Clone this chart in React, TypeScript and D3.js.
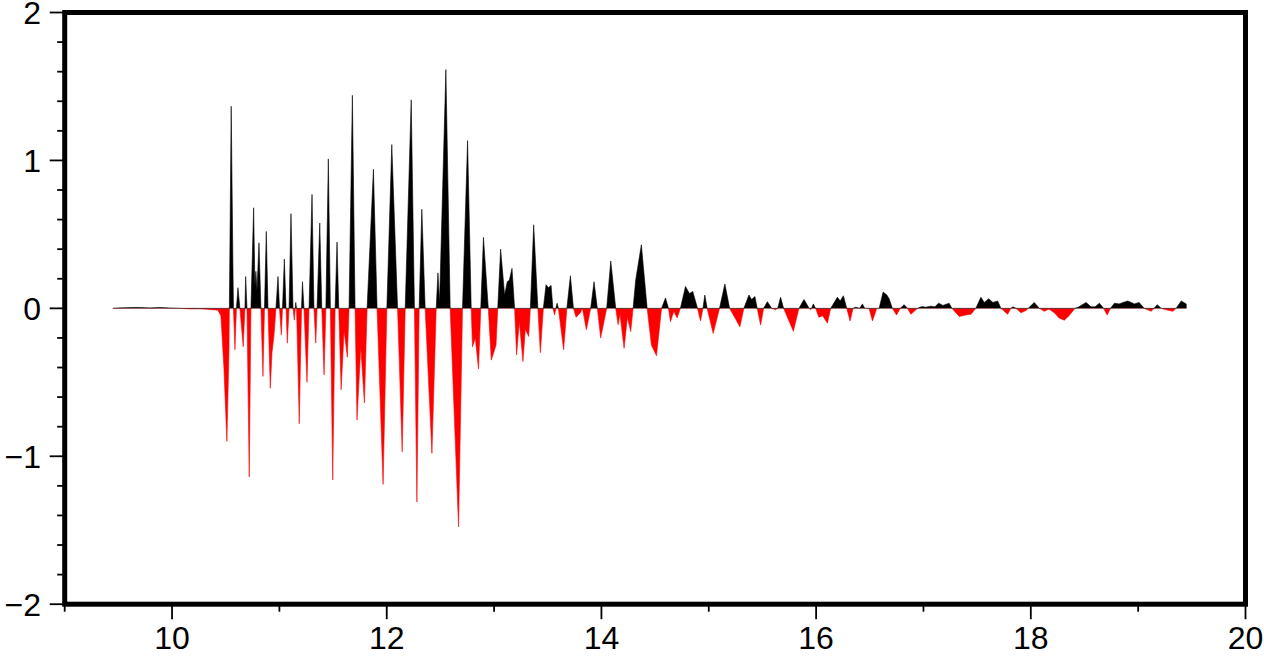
import React from 'react';
import * as d3 from 'd3';

// Seismic trace (time in s, amplitude)
const times = [
  9.448, 9.5, 9.56, 9.62, 9.7, 9.793, 9.886, 9.979, 10.073, 10.166, 10.259, 10.353, 10.427, 10.455, 10.483, 10.511, 10.53, 10.534,
  10.551, 10.567, 10.572, 10.586, 10.6, 10.614, 10.632, 10.663, 10.679, 10.686, 10.698, 10.719, 10.735, 10.76, 10.772, 10.781,
  10.791, 10.81, 10.828, 10.847, 10.861, 10.878, 10.894, 10.915, 10.931, 10.95, 10.968, 10.987, 11.001, 11.018, 11.029, 11.046,
  11.062, 11.074, 11.09, 11.108, 11.127, 11.139, 11.148, 11.152, 11.16, 11.185, 11.206, 11.215, 11.229, 11.257, 11.276, 11.304,
  11.322, 11.339, 11.351, 11.376, 11.395, 11.416, 11.433, 11.456, 11.475, 11.497, 11.519, 11.537, 11.553, 11.575, 11.603, 11.633,
  11.649, 11.68, 11.705, 11.723, 11.758, 11.792, 11.817, 11.876, 11.91, 11.966, 12.001, 12.047, 12.101, 12.144, 12.172, 12.228,
  12.258, 12.281, 12.302, 12.327, 12.358, 12.421, 12.461, 12.477, 12.492, 12.551, 12.591, 12.669, 12.706, 12.753, 12.787, 12.799,
  12.825, 12.855, 12.876, 12.901, 12.946, 12.974, 13.018, 13.034, 13.061, 13.098, 13.123, 13.142, 13.167, 13.191, 13.21, 13.235,
  13.269, 13.291, 13.322, 13.338, 13.369, 13.408, 13.431, 13.459, 13.484, 13.506, 13.531, 13.548, 13.564, 13.576, 13.587, 13.599,
  13.648, 13.678, 13.711, 13.739, 13.764, 13.804, 13.823, 13.86, 13.9, 13.931, 13.962, 13.993, 14.049, 14.087, 14.133, 14.155,
  14.173, 14.211, 14.242, 14.273, 14.295, 14.319, 14.372, 14.426, 14.466, 14.513, 14.56, 14.597, 14.625, 14.643, 14.674, 14.705,
  14.736, 14.783, 14.82, 14.851, 14.895, 14.923, 14.946, 14.963, 14.985, 15.041, 15.1, 15.15, 15.194, 15.29, 15.327, 15.374,
  15.399, 15.43, 15.451, 15.483, 15.511, 15.546, 15.586, 15.623, 15.642, 15.669, 15.697, 15.788, 15.84, 15.887, 15.935, 15.949,
  15.958, 15.974, 15.995, 16.026, 16.061, 16.105, 16.136, 16.198, 16.225, 16.254, 16.285, 16.316, 16.345, 16.369, 16.406, 16.431,
  16.453, 16.493, 16.525, 16.565, 16.587, 16.624, 16.659, 16.68, 16.71, 16.749, 16.784, 16.82, 16.851, 16.882, 16.945, 16.985,
  17.022, 17.069, 17.106, 17.141, 17.181, 17.239, 17.265, 17.333, 17.395, 17.442, 17.488, 17.535, 17.566, 17.607, 17.647, 17.691,
  17.722, 17.784, 17.815, 17.834, 17.862, 17.908, 17.955, 17.976, 18.032, 18.079, 18.126, 18.169, 18.219, 18.263, 18.312, 18.356,
  18.412, 18.449, 18.468, 18.515, 18.561, 18.599, 18.639, 18.678, 18.711, 18.743, 18.779, 18.822, 18.86, 18.904, 18.965, 19.009,
  19.056, 19.121, 19.149, 19.177, 19.214, 19.261, 19.323, 19.354, 19.401, 19.448,
];
const amps = [
  0, 0.003, 0.004, 0.005, 0.006, 0.003, 0.006, 0.002, 0, -0.004, -0.003, -0.008, -0.012, -0.05, -0.4, -0.9, -0.3, 0,
  1.366, 0.3, 0, -0.28, 0, 0.14, 0, -0.26, 0, 0.215, 0, -1.14, 0, 0.68, 0.15, 0.25,
  0.12, 0.443, 0, -0.46, 0, 0.52, 0, -0.54, -0.3, -0.18, 0, 0.215, 0, -0.18, 0, 0.333,
  0, -0.235, 0, 0.64, 0, -0.08, 0, 0.04, 0, -0.78, 0, 0.18, 0, -0.5, 0, 0.77,
  0, -0.235, 0, 0.577, 0, -0.45, 0, 1.01, 0, -1.16, 0, 0.448, 0, -0.55, -0.15, -0.33,
  0, 1.44, 0, -0.755, -0.26, -0.64, 0, 0.94, 0, -1.19, 0, 1.107, 0, -0.97, 0, 1.41,
  0, -1.31, 0, 0.67, 0, -0.98, 0, 0.24, 0.04, 1.614, 0, -1.477, 0, 1.134, 0, -0.26,
  -0.2, -0.41, 0, 0.48, 0, -0.35, -0.25, 0, 0.4, 0.09, 0.18, 0.19, 0.27, 0, -0.315, -0.09,
  -0.36, -0.14, -0.19, 0, 0.565, 0, -0.3, 0, 0.16, 0.14, 0.155, 0, -0.045, 0, 0.035, 0,
  -0.28, 0, 0.22, 0, -0.06, -0.03, 0, -0.145, 0, 0.18, 0, -0.2, 0, 0.32, 0, -0.11,
  -0.04, -0.27, -0.06, -0.157, 0, 0.19, 0.43, 0, -0.25, -0.32, 0, 0.07, 0, -0.09, -0.02, -0.065,
  0, 0.148, 0.1, 0.114, 0, -0.085, 0, 0.09, 0, -0.17, 0, 0.165, 0, -0.125, 0, 0.09,
  0.06, 0.08, 0, -0.113, 0, 0.045, 0, -0.01, 0, 0.075, 0, -0.155, 0, 0.06, 0, -0.01,
  0, 0.03, 0, -0.06, -0.05, -0.1, 0, 0.075, 0.05, 0.085, 0, -0.085, 0, 0.008, 0, 0.03,
  0, 0, -0.085, 0, 0, 0.11, 0.09, 0.065, 0, -0.045, 0, 0.025, 0, -0.04, 0, 0.012,
  0.008, 0.015, 0.01, 0.035, 0.02, 0.035, 0, -0.055, -0.045, -0.04, 0, 0.075, 0.04, 0.065, 0.04, 0.05,
  0, -0.04, 0, 0.01, 0, -0.03, -0.015, 0, 0.04, 0, -0.02, -0.005, -0.03, -0.065, -0.08, -0.05,
  0, 0.01, 0.02, 0.04, 0.01, 0.01, 0.035, 0, -0.045, 0, 0.035, 0.03, 0.04, 0.05, 0.03, 0.04,
  0, -0.02, 0, 0.025, 0, -0.01, -0.02, 0, 0.05, 0.03,
];

const xMajorTicks = [10, 12, 14, 16, 18, 20];
const xMajorLabels = ['10', '12', '14', '16', '18', '20'];
const xMinorTicks = [9, 11, 13, 15, 17, 19];
const yMajorTicks = [-2, -1, 0, 1, 2];
const yMajorLabels = ['\u22122', '\u22121', '0', '1', '2'];
const yMinorTicks = [-1.8, -1.6, -1.4, -1.2, -0.8, -0.6, -0.4, -0.2, 0.2, 0.4, 0.6, 0.8, 1.2, 1.4, 1.6, 1.8];

const W = 1264;
const H = 656;
const left = 64.7;
const right = 1245.5;
const top = 12.5;
const bottom = 604.2;

export default function App() {
  const x = d3.scaleLinear().domain([9, 20]).range([left, right]);
  const y = d3.scaleLinear().domain([-2, 2]).range([bottom, top]);
  const pts = times.map((t, i) => [t, amps[i]] as [number, number]);
  const area = d3
    .area<[number, number]>()
    .x((d) => x(d[0]))
    .y0(() => y(0))
    .y1((d) => y(d[1]));
  const dPath = area(pts) || '';
  const y0 = y(0);
  const font = "'Liberation Sans', Arial, Helvetica, sans-serif";
  const fs = 32;
  return (
    <svg width={W} height={H} style={{ position: 'absolute', left: 0, top: 0, background: '#fff' }}>
      <defs>
        <clipPath id="pos">
          <rect x={left} y={top} width={right - left} height={y0 - top + 0.3} />
        </clipPath>
        <clipPath id="neg">
          <rect x={left} y={y0 + 0.3} width={right - left} height={bottom - y0} />
        </clipPath>
      </defs>
      <rect x={0} y={0} width={W} height={H} fill="#fff" />
      <path d={dPath} fill="#000" stroke="#000" strokeWidth={0.6} clipPath="url(#pos)" />
      <path d={dPath} fill="#ff0000" stroke="#ff0000" strokeWidth={0.6} clipPath="url(#neg)" />
      {/* x ticks */}
      {xMajorTicks.map((t) => (
        <line key={'xM' + t} x1={x(t)} x2={x(t)} y1={bottom} y2={bottom + 15} stroke="#000" strokeWidth={1.8} />
      ))}
      {xMinorTicks.map((t) => (
        <line key={'xm' + t} x1={x(t)} x2={x(t)} y1={bottom} y2={bottom + 7.5} stroke="#000" strokeWidth={1.8} />
      ))}
      {xMajorTicks.map((t, i) => (
        <text key={'xl' + t} x={x(t)} y={649} textAnchor="middle" fontFamily={font} fontSize={fs} fill="#000">
          {xMajorLabels[i]}
        </text>
      ))}
      {/* y ticks */}
      {yMajorTicks.map((t) => (
        <line key={'yM' + t} x1={left - 15} x2={left} y1={y(t)} y2={y(t)} stroke="#000" strokeWidth={1.8} />
      ))}
      {yMinorTicks.map((t) => (
        <line key={'ym' + t} x1={left - 7.5} x2={left} y1={y(t)} y2={y(t)} stroke="#000" strokeWidth={1.8} />
      ))}
      {yMajorTicks.map((t, i) => (
        <text key={'yl' + t} x={41} y={y(t) + 11.5} textAnchor="end" fontFamily={font} fontSize={fs} fill="#000">
          {yMajorLabels[i]}
        </text>
      ))}
      {/* frame */}
      <rect x={left} y={top} width={right - left} height={bottom - top} fill="none" stroke="#000" strokeWidth={5} strokeLinejoin="miter" />
    </svg>
  );
}
